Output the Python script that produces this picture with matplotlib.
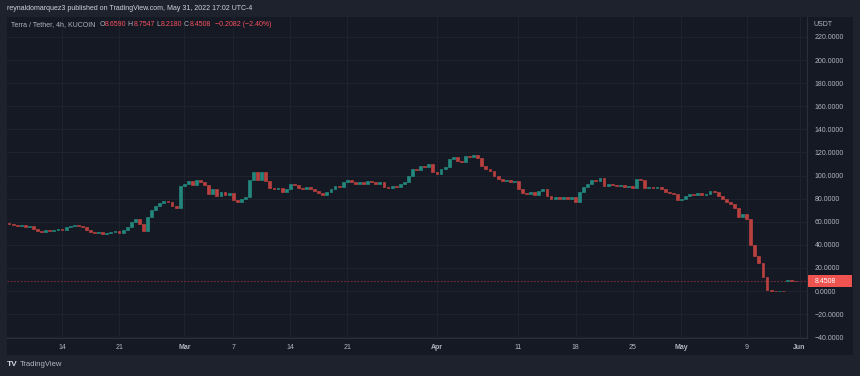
import matplotlib.pyplot as plt
import numpy as np
import pandas as pd
from matplotlib.patches import Rectangle

plt.rcParams['font.family'] = ['Liberation Sans', 'DejaVu Sans']

# 12h closes, Feb 7 12:00 -> May 13 12:00
main_close = [58, 57, 56, 57, 55, 56, 54, 52, 51, 53,
              52, 53, 54, 53, 55, 56, 57, 56, 55, 53,
              51, 50, 51, 49, 50, 51, 52, 50, 53, 55,
              60, 62, 58, 52, 64, 70, 74, 76, 78, 77,
              74, 72, 91, 93, 95, 92, 96, 94, 92, 84,
              88, 82, 86, 83, 85, 79, 77, 80, 81, 96,
              103, 96, 103, 95, 89, 88, 89, 86, 88, 93,
              92, 89, 88, 90, 88, 87, 85, 83, 86, 88,
              91, 90, 94, 96, 94, 93, 94, 93, 95, 94,
              93, 94, 90, 89, 91, 90, 93, 94, 100, 106,
              105, 108, 107, 110, 103, 101, 106, 107, 114, 116,
              113, 112, 117, 116, 118, 115, 108, 106, 104, 100,
              97, 95, 96, 94, 95, 88, 85, 84, 86, 83,
              87, 88, 82, 80, 81, 80, 81, 80, 81, 77,
              86, 90, 93, 96, 95, 98, 91, 93, 92, 91,
              92, 90, 91, 89, 97, 96, 89, 90, 89, 90,
              88, 86, 85, 84, 79, 80, 82, 84, 83, 85,
              83, 84, 87, 86, 82, 80, 77, 75, 72, 64,
              67, 62, 40, 30, 24, 12, 1.0, 0.1, 0.05, 0.1,
              0.08]
main_first_open = 59.0
# relisted bars, end of May
late_close = [9.9, 8.66, 8.4508]
late_first_open = 9.0

tick_dates = ['2022-02-14', '2022-02-21', '2022-03-01', '2022-03-07', '2022-03-14',
              '2022-03-21', '2022-04-01', '2022-04-11', '2022-04-18', '2022-04-25',
              '2022-05-01', '2022-05-09', '2022-06-01']
tick_labels = ['14', '21', 'Mar', '7', '14', '21', 'Apr', '11', '18', '25', 'May', '9', 'Jun']
month_labels = ['Mar', 'Apr', 'May', 'Jun']
price_ticks = np.arange(-40, 221, 20)
last_price = 8.4508

BG_OUT = '#1e222d'
BG = '#151924'
GRID = '#1f2330'
LINE = '#2a2e39'
TXT = '#b2b5be'
UP = '#23877d'
DOWN = '#b8403f'
RED = '#f7525f'

dates = pd.date_range('2022-02-07 12:00', periods=len(main_close), freq='12h').append(
    pd.date_range('2022-05-30 12:00', periods=len(late_close), freq='12h'))
closes = np.array(main_close + late_close, dtype=float)
opens = np.r_[main_first_open, main_close[:-1], late_first_open, late_close[:-1]]
x = np.arange(len(closes))
tick_pos = dates.searchsorted(pd.to_datetime(tick_dates))

fig = plt.figure(figsize=(8.6, 3.76), dpi=100, facecolor=BG_OUT)
W, H = 860, 376
fig.patches.append(Rectangle((7 / W, 1 - 355 / H), 846 / W, 338 / H, transform=fig.transFigure,
                             facecolor=BG, edgecolor='none', zorder=-10))
ax = fig.add_axes([7 / W, 1 - 338 / H, 800 / W, 321 / H])
ax.set_facecolor(BG)

up = closes >= opens
dn = ~up
ax.bar(x[up], closes[up] - opens[up], bottom=opens[up], width=0.7,
       color=UP, edgecolor=UP, linewidth=0.5, zorder=3)
ax.bar(x[dn], closes[dn] - opens[dn], bottom=opens[dn], width=0.7,
       color=DOWN, edgecolor=DOWN, linewidth=0.5, zorder=3)

ax.axhline(last_price, color='#7a2f38', linestyle=(0, (1.5, 1.5)), linewidth=0.8, zorder=2)

ax.set_xlim(-0.5, 195.8)
ax.set_ylim(-40.7, 237.3)
ax.set_xticks(tick_pos)
ax.set_xticklabels(tick_labels)
for lab in ax.get_xticklabels():
    if lab.get_text() in month_labels:
        lab.set_fontweight('bold')
ax.set_yticks(price_ticks)
ax.set_yticklabels([f'{v:.4f}'.replace('-', '\u2212') for v in price_ticks])
ax.yaxis.tick_right()
ax.tick_params(axis='both', length=0, colors=TXT, labelsize=5)
ax.tick_params(axis='y', pad=5.5)
ax.tick_params(axis='x', pad=4.5)
ax.grid(True, color=GRID, linewidth=0.7, zorder=0)
for s in ['top', 'left']:
    ax.spines[s].set_visible(False)
for s in ['right', 'bottom']:
    ax.spines[s].set_color(LINE)
    ax.spines[s].set_linewidth(0.8)

# last price tag on the price scale
ax.add_patch(Rectangle((1.0015, last_price - 5.2), 0.055, 10.4, transform=ax.get_yaxis_transform(),
                       facecolor='#ef5350', edgecolor='none', clip_on=False, zorder=5))
ax.text(1.0095, last_price, f'{last_price:.4f}', transform=ax.get_yaxis_transform(),
        color='white', fontsize=5, va='center', ha='left', zorder=6)

fig.text(813 / W, 1 - 24 / H, 'USDT', color=TXT, fontsize=5, va='center')
fig.text(7 / W, 1 - 9 / H, 'reynaldomarquez3 published on TradingView.com, May 31, 2022 17:02 UTC-4',
         color='#d1d4dc', fontsize=5, va='center')

# legend line: mixed colours, each piece placed after the previous one
parts = [('O', TXT), ('8.6590', RED), (' H', TXT), ('8.7547', RED), (' L', TXT),
         ('8.2180', RED), (' C', TXT), ('8.4508', RED), ('  \u22120.2082 (\u22122.40%)', RED)]
t = fig.text(11 / W, 1 - 25 / H, 'Terra / Tether, 4h, KUCOIN  ', color=TXT, fontsize=5, va='center')
for s, c in parts:
    t = ax.annotate(s, xy=(1, 0), xycoords=t, va='bottom', ha='left', color=c, fontsize=5)

fig.text(7 / W, 1 - 365 / H, 'TV', color='#d1d4dc', fontsize=6, fontweight='bold', va='center')
fig.text(20 / W, 1 - 365 / H, 'TradingView', color='#b2b5be', fontsize=5.5, va='center')

fig.savefig('out.png', dpi=100, facecolor=BG_OUT)
